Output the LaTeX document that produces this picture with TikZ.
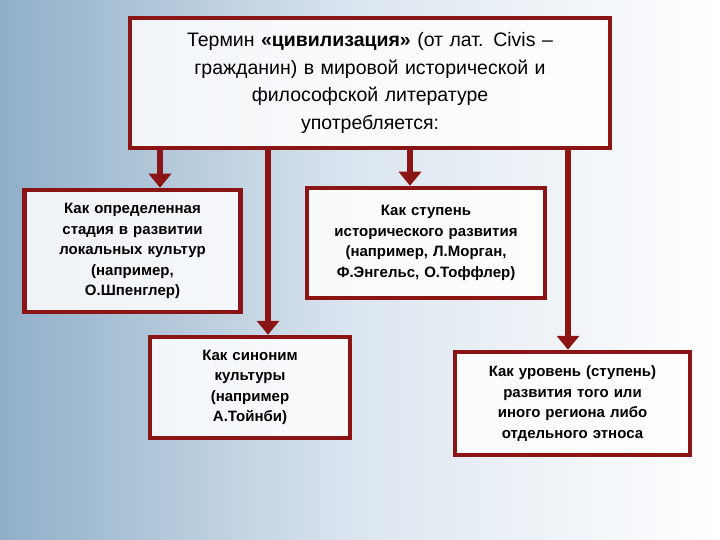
\documentclass[tikz,border=0pt]{standalone}
\usepackage{fontspec}
\setmainfont{Liberation Sans}
\usetikzlibrary{arrows.meta}
\definecolor{dred}{HTML}{8B1414}
\definecolor{bgl}{HTML}{8FAFC8}
\definecolor{bgm}{HTML}{DCE6F0}
\begin{document}
\begin{tikzpicture}[x=1pt,y=-1pt,
  box/.style={draw=dred,line width=4.5pt,fill=white,fill opacity=0.85,text opacity=1,align=center,inner sep=2pt,font=\fontsize{15}{20.5}\selectfont},
  arr/.style={draw=dred,line width=6pt,-{Triangle[length=14pt,width=22pt]}}]
\shade[left color=bgl,right color=white,middle color=bgm] (0,0) rectangle (720,540);
\useasboundingbox (0,0) rectangle (720,540);
\node[box,minimum width=480pt,minimum height=130pt,font=\fontsize{19.5}{27.5}\selectfont,text width=470pt] (top) at (370,83) {Термин \textbf{«цивилизация»} (от лат. Civis –\\ гражданин) в мировой исторической и\\ философской литературе\\ употребляется:};
\node[box,minimum width=215pt,minimum height=122pt,text width=212pt] (b1) at (132.5,251) {\textbf{Как определенная\\ стадия в развитии\\ локальных культур\\ (например,\\ О.Шпенглер)}};
\node[box,minimum width=238pt,minimum height=110pt,text width=234pt] (b2) at (426,243) {\textbf{Как ступень\\ исторического развития\\ (например, Л.Морган,\\ Ф.Энгельс, О.Тоффлер)}};
\node[box,minimum width=200pt,minimum height=101pt,text width=196pt] (b3) at (250,387.5) {\textbf{Как синоним\\ культуры\\ (например\\ А.Тойнби)}};
\node[box,minimum width=235pt,minimum height=103pt,text width=231pt] (b4) at (572.5,403.5) {\textbf{Как уровень (ступень)\\ развития того или\\ иного региона либо\\ отдельного этноса}};
\draw[arr] (160,150) -- (b1.north -| 160,0);
\draw[arr] (268,150) -- (b3.north -| 268,0);
\draw[arr] (410,150) -- (b2.north -| 410,0);
\draw[arr] (568,150) -- (b4.north -| 568,0);
\end{tikzpicture}
\end{document}
